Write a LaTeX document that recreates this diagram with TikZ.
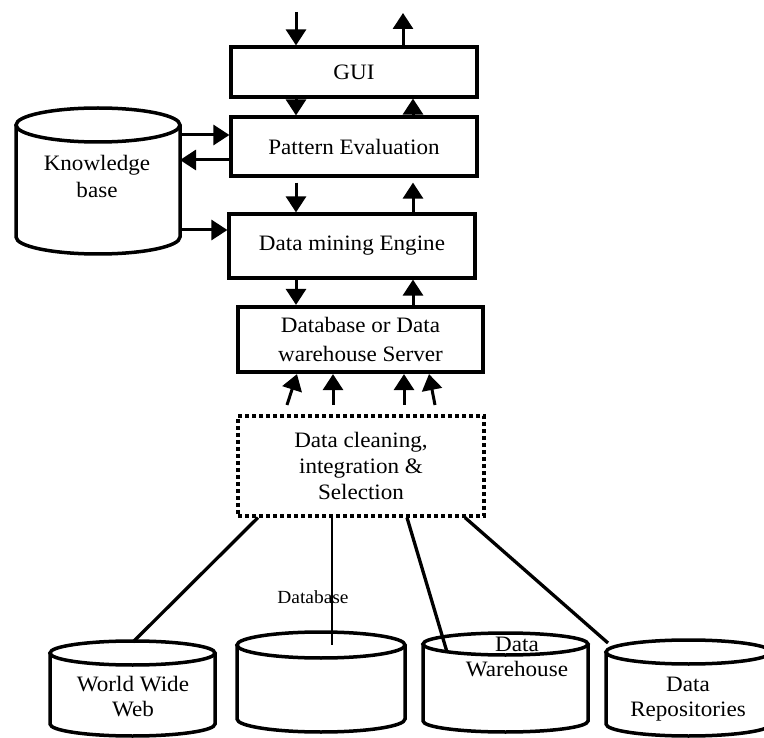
\documentclass[tikz,border=0pt]{standalone}
\usepackage{fontspec}
\setmainfont{Liberation Serif}[FakeStretch=1.05]
\usetikzlibrary{arrows.meta}
\newcommand\drawcyl[6]{%
  \draw[cylline] (#1,#3) -- (#1,#4) arc[start angle=180,end angle=360,x radius=#5pt,y radius=#6pt] -- (#2,#3);
  \draw[cylline] ({(#1+#2)/2},#3) ellipse[x radius=#5pt,y radius=#6pt];}
\begin{document}
\begin{tikzpicture}[x=1pt,y=-1pt,
  box/.style={draw, line width=3.2pt, inner sep=0pt, font=\fontsize{22}{27}\selectfont, align=center},
  arr/.style={line width=3pt, -{Triangle[length=16pt,width=20pt]}},
  cylline/.style={line width=3.5pt},
  lbl/.style={font=\fontsize{22}{25}\selectfont, align=center, inner sep=0pt},
  link/.style={line width=3.3pt}]
\useasboundingbox (0,0) rectangle (764,738);
\clip (0,0) rectangle (764,738);
\fill[white] (0,0) rectangle (764,738);

% boxes
\node[box, minimum width=246pt, minimum height=50pt] (gui) at (354,72) {GUI};
\node[box, minimum width=246pt, minimum height=59pt] (pe) at (354,146.5) {Pattern Evaluation};
\node[box, minimum width=246pt, minimum height=64pt] (dme) at (352,246) {Data mining Engine};
\node[box, line width=4.2pt, minimum width=245pt, minimum height=65pt, font=\fontsize{22}{29}\selectfont] (srv) at (360.5,339.5) {Database or Data\\warehouse Server};
\node[box, dash pattern=on 4pt off 3pt, line width=3.2pt, minimum width=246pt, minimum height=100pt, font=\fontsize{22}{26}\selectfont] (dc) at (361,466) {Data cleaning,\\integration \&\\Selection};

% knowledge base
\drawcyl{16}{180}{125}{237}{82}{17}
\node[lbl, font=\fontsize{22}{27}\selectfont] (kb) at (97,176) {Knowledge\\base};

% vertical arrows
\coordinate (xl) at (296,0);
\coordinate (xr) at (413,0);
\coordinate (inTop) at (296,12);
\coordinate (outTop) at (403,13);
\draw[arr] (inTop) -- (inTop |- gui.north);
\draw[arr] (outTop |- gui.north) -- (outTop);
\draw[arr] (xl |- gui.south) -- (xl |- pe.north);
\draw[arr] (xr |- pe.north) -- (xr |- gui.south);
\draw[arr, shorten <=5pt] (xl |- pe.south) -- (xl |- dme.north);
\draw[arr, shorten >=5pt] (xr |- dme.north) -- (xr |- pe.south);
\draw[arr] (xl |- dme.south) -- (xl |- srv.north);
\draw[arr] (xr |- srv.north) -- (xr |- dme.south);

% knowledge base arrows
\coordinate (kbA) at (180,135);
\coordinate (kbB) at (180,160);
\coordinate (kbC) at (180,230);
\draw[arr] (kbA) -- (kbA -| pe.west);
\draw[arr] (kbB -| pe.west) -- (kbB);
\draw[arr] (kbC) -- (kbC -| dme.west);

% arrows into server
\coordinate (u1) at (287,405); \coordinate (v1) at (297,0);
\coordinate (u2) at (333,405); \coordinate (v2) at (333,0);
\coordinate (u3) at (404,405); \coordinate (v3) at (404,0);
\coordinate (u4) at (435,405); \coordinate (v4) at (429,0);
\draw[arr] (u1) -- (v1 |- srv.south);
\draw[arr] (u2) -- (v2 |- srv.south);
\draw[arr] (u3) -- (v3 |- srv.south);
\draw[arr] (u4) -- (v4 |- srv.south);

% source cylinders
\drawcyl{50}{215}{653}{724}{82.5}{12}
\drawcyl{237}{405}{645}{719}{84}{13}
\drawcyl{423}{588}{644}{721}{82.5}{11}
\drawcyl{606}{771}{652}{724}{82.5}{12}

\node[lbl] (www) at (133,697) {World Wide\\Web};
\node[lbl] (dw) at (517,657) {Data\\Warehouse};
\node[lbl] (dr) at (688,699) {Data\\Repositories};
\node[lbl, font=\fontsize{18.5}{20}\selectfont] (dblbl) at (313,597) {Database};

% links from cleaning box to sources
\coordinate (dA) at (258,0); \coordinate (tA) at (133,642);
\coordinate (dB) at (332,0); \coordinate (tB) at (332,645);
\coordinate (dC) at (407,0); \coordinate (tC) at (447,652);
\coordinate (dD) at (465,0); \coordinate (tD) at (608,643);
\draw[link] (dA |- dc.south) -- (tA);
\draw[link, line width=2.2pt] (dB |- dc.south) -- (tB);
\draw[link] (dC |- dc.south) -- (tC);
\draw[link] (dD |- dc.south) -- (tD);
\end{tikzpicture}
\end{document}
